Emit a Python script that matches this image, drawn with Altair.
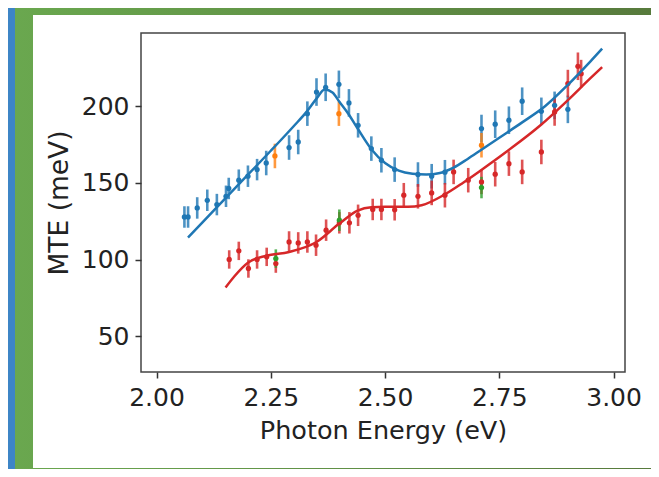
import altair as alt
import pandas as pd

# ---- data ----
blue_x = [2.061, 2.069, 2.089, 2.111, 2.132, 2.152, 2.158, 2.180, 2.200, 2.220, 2.240,
          2.290, 2.310, 2.330, 2.350, 2.370, 2.399, 2.421, 2.441, 2.470, 2.492, 2.521,
          2.572, 2.602, 2.631, 2.711, 2.741, 2.771, 2.800, 2.842, 2.871, 2.900]
blue_y = [127.8, 127.8, 133.7, 138.7, 135.9, 141.3, 146.4, 151.8, 154.4, 158.7, 163.0,
          173.1, 176.7, 195.2, 209.3, 212.4, 214.3, 202.2, 187.6, 172.4, 164.8, 158.7,
          155.5, 154.4, 157.0, 185.5, 188.3, 190.9, 203.3, 196.7, 200.6, 198.0]
blue_err = [7, 7, 7, 7, 7, 7, 7, 7, 7, 7, 8,
            8, 8, 8, 9, 9, 9, 9, 8, 8, 8, 8,
            8, 8, 8, 9, 9, 9, 9, 9, 9, 9]

red_x = [2.159, 2.180, 2.201, 2.220, 2.241, 2.261, 2.290, 2.310, 2.330, 2.349, 2.371,
         2.400, 2.422, 2.441, 2.473, 2.492, 2.521, 2.541, 2.572, 2.602, 2.631, 2.650,
         2.682, 2.711, 2.741, 2.771, 2.800, 2.842, 2.871, 2.900, 2.922, 2.929]
red_y = [100.1, 105.7, 94.2, 100.1, 101.8, 97.4, 111.5, 110.9, 111.5, 109.4, 119.2,
         124.0, 124.0, 128.9, 132.7, 132.7, 132.5, 142.0, 141.3, 143.5, 142.0, 157.2,
         151.8, 150.7, 155.7, 162.6, 157.2, 170.2, 196.3, 214.8, 226.1, 221.3]
red_err = [6, 6, 6, 6, 6, 6, 7, 7, 7, 7, 7,
           7, 7, 7, 7, 7, 7, 8, 8, 8, 8, 8,
           8, 8, 8, 8, 8, 8, 9, 9, 9, 9]

orange_x = [2.259, 2.399, 2.711]
orange_y = [167.6, 195.2, 174.6]
orange_err = [8, 8, 8]

green_x = [2.261, 2.400, 2.711]
green_y = [100.7, 125.7, 147.0]
green_err = [6, 7, 7]

blue_fit_x = [2.069, 2.10, 2.15, 2.20, 2.25, 2.30, 2.33, 2.35, 2.368, 2.385, 2.40, 2.42,
              2.44, 2.47, 2.50, 2.53, 2.56, 2.59, 2.62, 2.65, 2.68, 2.71, 2.75, 2.80,
              2.85, 2.90, 2.95, 2.975]
blue_fit_y = [114.4, 124.1, 139.8, 155.4, 171.0, 187.0, 197.0, 205.0, 210.9, 209.0, 203.0,
              195.0, 185.5, 172.0, 163.0, 158.0, 156.0, 155.5, 156.5, 160.0, 165.5, 171.5,
              179.5, 189.5, 200.0, 214.0, 229.5, 237.6]

red_fit_x = [2.151, 2.17, 2.20, 2.24, 2.29, 2.35, 2.40, 2.44, 2.47, 2.50, 2.55, 2.58,
             2.63, 2.67, 2.71, 2.77, 2.84, 2.90, 2.95, 2.975]
red_fit_y = [81.8, 89.0, 98.0, 102.5, 105.0, 111.5, 123.5, 132.0, 134.2, 134.5, 134.5,
             135.5, 142.4, 150.0, 158.3, 171.3, 187.6, 204.0, 218.5, 225.5]

x_ticks = [2.0, 2.25, 2.5, 2.75, 3.0]
y_ticks = [50, 100, 150, 200]

series_names = ["blue", "red", "orange", "green"]
series_colors = ["#1f77b4", "#d62728", "#ff7f0e", "#2ca02c"]

# ---- tables ----
def table(xs, ys, es, name):
    return pd.DataFrame({"E": xs, "MTE": ys,
                         "lo": [y - e for y, e in zip(ys, es)],
                         "hi": [y + e for y, e in zip(ys, es)],
                         "series": name})

pts = pd.concat([
    table(blue_x, blue_y, blue_err, "blue"),
    table(red_x, red_y, red_err, "red"),
    table(orange_x, orange_y, orange_err, "orange"),
    table(green_x, green_y, green_err, "green"),
], ignore_index=True)
pts["ord"] = range(len(pts))

fits = pd.concat([
    pd.DataFrame({"E": blue_fit_x, "MTE": blue_fit_y, "series": "blue"}),
    pd.DataFrame({"E": red_fit_x, "MTE": red_fit_y, "series": "red"}),
], ignore_index=True)

W, H = 484, 339
PAD = {"left": 133, "top": 25, "right": 26, "bottom": 97}
FONT = "DejaVu Sans"

xs = alt.Scale(domain=[1.966, 3.025], nice=False, zero=False)
ys = alt.Scale(domain=[26.7, 247.8], nice=False, zero=False)
cs = alt.Scale(domain=series_names, range=series_colors)

xaxis = alt.Axis(values=x_ticks, format=".2f", title="Photon Energy (eV)", grid=False,
                 domain=False, tickSize=6, tickWidth=1.5, tickColor="#333",
                 labelFontSize=25, labelColor="#222", labelPadding=7, labelFont=FONT,
                 titleFontSize=25.5, titleFont=FONT, titleFontWeight="normal",
                 titleColor="#222", titlePadding=8, zindex=1)
yaxis = alt.Axis(values=y_ticks, title="MTE (meV)", grid=False, domain=False,
                 tickSize=6, tickWidth=1.5, tickColor="#333",
                 labelFontSize=25, labelColor="#222", labelPadding=6, labelFont=FONT,
                 titleFontSize=26.5, titleFont=FONT, titleFontWeight="normal",
                 titleColor="#222", titlePadding=8, zindex=1)

one = alt.Data(values=[{"a": 1}])

bg = alt.Chart(one).mark_rect(
    color=alt.Gradient(gradient="linear", x1=0, x2=1, y1=0, y2=0,
                       stops=[alt.GradientStop(color="#6aa84f", offset=0),
                              alt.GradientStop(color="#577a3c", offset=1)])
).encode(x=alt.value(-PAD["left"]), x2=alt.value(W + PAD["right"]),
         y=alt.value(-PAD["top"]), y2=alt.value(H + PAD["bottom"]))

blue_strip = alt.Chart(one).mark_rect(color="#3d85c6").encode(
    x=alt.value(-PAD["left"]), x2=alt.value(-PAD["left"] + 7),
    y=alt.value(-PAD["top"]), y2=alt.value(H + PAD["bottom"]))

panel = alt.Chart(one).mark_rect(color="white").encode(
    x=alt.value(-108), x2=alt.value(W + PAD["right"]),
    y=alt.value(-18), y2=alt.value(435))

bars = alt.Chart(pts).mark_rule(strokeWidth=2.6, opacity=0.8).encode(
    x=alt.X("E:Q", scale=xs, axis=xaxis),
    y=alt.Y("lo:Q", scale=ys, axis=yaxis),
    y2="hi:Q",
    color=alt.Color("series:N", scale=cs, legend=None),
    order="ord:Q")

dots = alt.Chart(pts).mark_circle(size=28, opacity=1).encode(
    x=alt.X("E:Q", scale=xs),
    y=alt.Y("MTE:Q", scale=ys),
    color=alt.Color("series:N", scale=cs, legend=None),
    order="ord:Q")

lines = alt.Chart(fits).mark_line(strokeWidth=2.5, interpolate="monotone").encode(
    x=alt.X("E:Q", scale=xs),
    y=alt.Y("MTE:Q", scale=ys),
    color=alt.Color("series:N", scale=cs, legend=None),
    detail="series:N")

frame = alt.Chart(one).mark_rect(fillOpacity=0, stroke="#444", strokeWidth=1.5).encode(
    x=alt.value(0), x2=alt.value(W), y=alt.value(0), y2=alt.value(H))

chart = alt.layer(bg, blue_strip, panel, bars, dots, lines, frame).properties(
    width=W, height=H, padding=PAD, autosize=alt.AutoSizeParams(type="none"),
    background="white"
).configure_view(strokeWidth=0)

chart.save("out.html", embed_options={"renderer": "svg", "actions": False})
